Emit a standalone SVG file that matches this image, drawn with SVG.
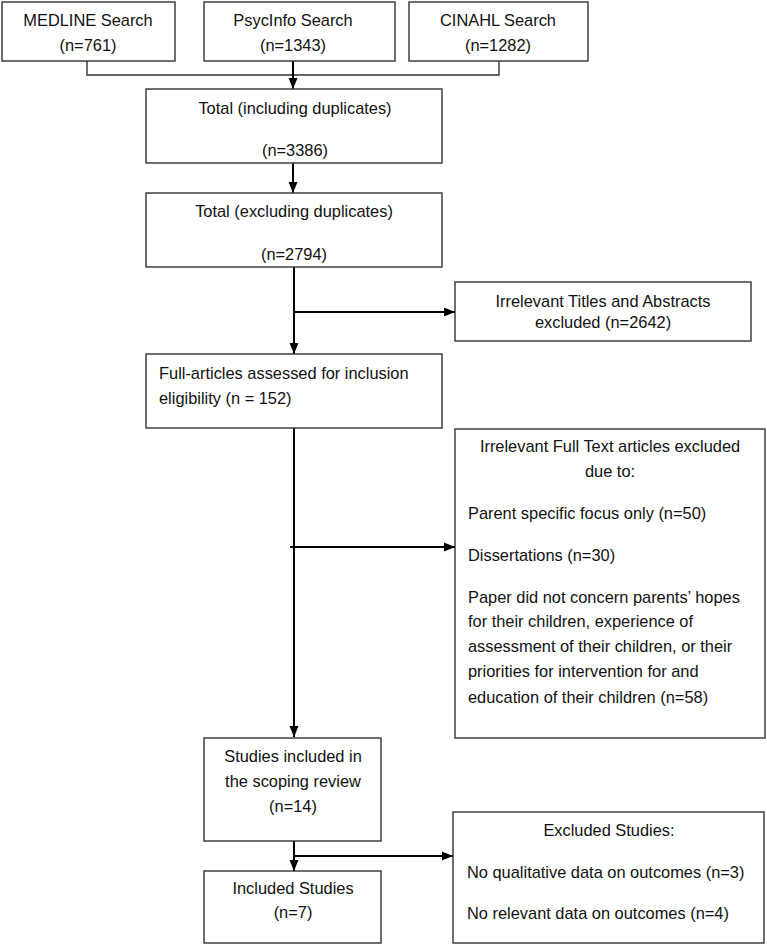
<svg xmlns="http://www.w3.org/2000/svg" width="767" height="945" viewBox="0 0 767 945">
<defs>
<marker id="ah" markerUnits="userSpaceOnUse" markerWidth="12" markerHeight="10" refX="11" refY="5" orient="auto">
<path d="M0,0.5 L11,5 L0,9.5 z" fill="#000"/>
</marker>
<style>
.box{fill:#fff;stroke:#333;stroke-width:1.4}
text{font-family:"Liberation Sans",Arial,sans-serif;font-size:16.4px;fill:#111}
.c{text-anchor:middle}
.ln{fill:none;stroke:#000;stroke-width:2}
.thin{fill:none;stroke:#333;stroke-width:1.4}
</style>
</defs>
<rect width="767" height="945" fill="#fff"/>
<g id="connectors">
<path class="thin" d="M87,61 V75 H499 V61"/>
<path class="ln" d="M293,61 V89" marker-end="url(#ah)"/>
<path class="ln" d="M293,163 V193" marker-end="url(#ah)"/>
<path class="ln" d="M294,267 V354" marker-end="url(#ah)"/>
<path class="ln" d="M294,312 H455" marker-end="url(#ah)"/>
<path class="ln" d="M294,428 V737" marker-end="url(#ah)"/>
<path class="ln" d="M290,547 H455" marker-end="url(#ah)"/>
<path class="ln" d="M294,841 V871" marker-end="url(#ah)"/>
<path class="ln" d="M294,856 H453" marker-end="url(#ah)"/>
</g>
<g id="medline">
<rect class="box" x="2" y="2" width="173" height="59"/>
<text class="c" x="88" y="26">MEDLINE Search</text>
<text class="c" x="88" y="51">(n=761)</text>
</g>
<g id="psycinfo">
<rect class="box" x="204" y="2" width="191" height="59"/>
<text class="c" x="293" y="26">PsycInfo Search</text>
<text class="c" x="293" y="51">(n=1343)</text>
</g>
<g id="cinahl">
<rect class="box" x="409" y="2" width="179" height="59"/>
<text class="c" x="498" y="26">CINAHL Search</text>
<text class="c" x="498" y="51">(n=1282)</text>
</g>
<g id="total-incl">
<rect class="box" x="146" y="89" width="296" height="74"/>
<text class="c" x="295" y="114">Total (including duplicates)</text>
<text class="c" x="295" y="156">(n=3386)</text>
</g>
<g id="total-excl">
<rect class="box" x="146" y="193" width="296" height="74"/>
<text class="c" x="294" y="217">Total (excluding duplicates)</text>
<text class="c" x="294" y="260">(n=2794)</text>
</g>
<g id="irrelevant-titles">
<rect class="box" x="455" y="282" width="296" height="59"/>
<text class="c" x="603" y="307">Irrelevant Titles and Abstracts</text>
<text class="c" x="603" y="328">excluded (n=2642)</text>
</g>
<g id="full-articles">
<rect class="box" x="146" y="354" width="296" height="74"/>
<text x="159" y="379">Full-articles assessed for inclusion</text>
<text x="159" y="404">eligibility (n = 152)</text>
</g>
<g id="irrelevant-fulltext">
<rect class="box" x="455" y="429" width="310" height="309"/>
<text class="c" x="610" y="452">Irrelevant Full Text articles excluded</text>
<text class="c" x="610" y="477">due to:</text>
<text x="468" y="519">Parent specific focus only (n=50)</text>
<text x="468" y="561">Dissertations (n=30)</text>
<text x="468" y="603">Paper did not concern parents’ hopes</text>
<text x="468" y="627">for their children, experience of</text>
<text x="468" y="652">assessment of their children, or their</text>
<text x="468" y="677">priorities for intervention for and</text>
<text x="468" y="703">education of their children (n=58)</text>
</g>
<g id="studies-included">
<rect class="box" x="204" y="738" width="177" height="103"/>
<text class="c" x="293" y="762">Studies included in</text>
<text class="c" x="293" y="787">the scoping review</text>
<text class="c" x="293" y="812">(n=14)</text>
</g>
<g id="included-studies">
<rect class="box" x="204" y="871" width="177" height="72"/>
<text class="c" x="293" y="894">Included Studies</text>
<text class="c" x="293" y="918">(n=7)</text>
</g>
<g id="excluded-studies">
<rect class="box" x="453" y="812" width="311" height="131"/>
<text class="c" x="609" y="836">Excluded Studies:</text>
<text x="467" y="878">No qualitative data on outcomes (n=3)</text>
<text x="467" y="919">No relevant data on outcomes (n=4)</text>
</g>
</svg>
